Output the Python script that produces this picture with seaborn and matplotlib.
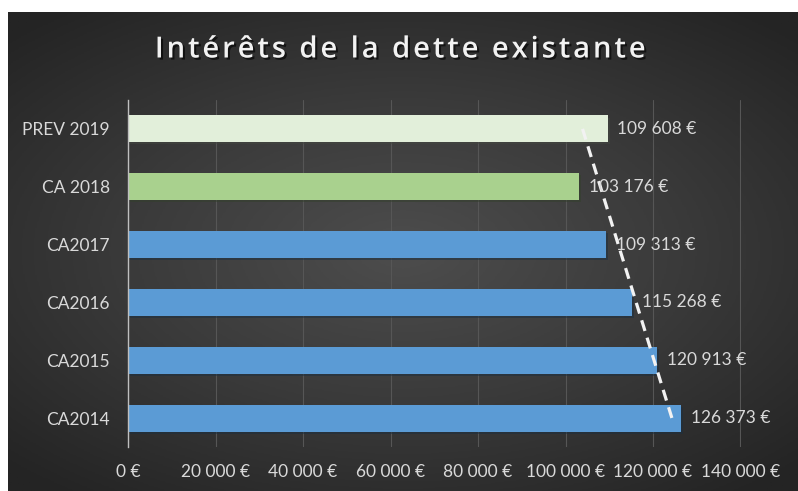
import numpy as np
import pandas as pd
import matplotlib
matplotlib.use("Agg")
import matplotlib.pyplot as plt
import matplotlib.patheffects as pe
from matplotlib.ticker import FuncFormatter
import seaborn as sns

# Données du graphique
categories = ["PREV 2019", "CA 2018", "CA2017", "CA2016", "CA2015", "CA2014"]
valeurs = [109608, 103176, 109313, 115268, 120913, 126373]
couleurs = ["#E2EFDA", "#A9D18E", "#5B9BD5", "#5B9BD5", "#5B9BD5", "#5B9BD5"]
titre = "Intérêts de la dette existante"

df = pd.DataFrame({"categorie": categories, "valeur": valeurs})

sns.set_theme(style="dark")
plt.rcParams["font.family"] = ["Lato", "DejaVu Sans"]

fig = plt.figure(figsize=(7.98, 4.91), dpi=100, facecolor="white")

# Fond sombre avec dégradé radial
bg = fig.add_axes([8 / 798, 0, 790 / 798, 479 / 491], zorder=0)
yy, xx = np.mgrid[-1:1:300j, -1:1:500j]
r = np.sqrt((xx * 0.95) ** 2 + (yy * 1.05) ** 2)
bg.imshow(r, cmap=matplotlib.colors.LinearSegmentedColormap.from_list(
    "fond", ["#4d4d4d", "#3a3a3a", "#242424"]), aspect="auto",
    extent=[0, 1, 0, 1], vmin=0, vmax=1.35)
bg.axis("off")

ax = fig.add_axes([128 / 798, 1 - 447 / 491, 612.5 / 798, 347 / 491], zorder=1)
ax.patch.set_alpha(0)

sns.barplot(data=df, x="valeur", y="categorie", hue="categorie",
            palette=dict(zip(categories, couleurs)), order=categories,
            width=0.465, saturation=1, legend=False, ax=ax, zorder=3,
            edgecolor="none", linewidth=0)

for p in ax.patches:
    p.set_path_effects([pe.SimplePatchShadow(offset=(1.5, -1.5), alpha=0.5), pe.Normal()])

# Courbe de tendance linéaire (comme Excel)
pos = np.arange(len(valeurs))
a, b = np.polyfit(pos, valeurs, 1)
ax.plot(a * pos[[0, -1]] + b, pos[[0, -1]], color="#f2f2f2", lw=2.3,
        ls=(0, (3.5, 2.2)), zorder=4)

# Étiquettes de données
for i, v in enumerate(valeurs):
    ax.annotate(f"{v:,}".replace(",", " ") + " €", (v, i), xytext=(7, 0),
                textcoords="offset points", va="center", ha="left",
                color="#d9d9d9", fontsize=12.5, zorder=5)

ax.set_xlim(0, 140000)
ax.set_ylim(5.5, -0.5)
ax.set_xticks(range(0, 140001, 20000))
ax.xaxis.set_major_formatter(FuncFormatter(lambda x, _: f"{int(x):,}".replace(",", " ") + " €"))
ax.grid(axis="x", color="#565656", lw=0.8, zorder=0)
ax.grid(axis="y", visible=False)
ax.set_xlabel("")
ax.set_ylabel("")
ax.tick_params(axis="both", length=0, colors="#d9d9d9", labelsize=12.5)
ax.tick_params(axis="x", pad=12)
ax.tick_params(axis="y", pad=13)
for s in ["top", "right", "bottom"]:
    ax.spines[s].set_visible(False)
ax.spines["left"].set_color("#bfbfbf")
ax.spines["left"].set_linewidth(1)
ax.spines["left"].set_zorder(4)

# Titre avec espacement des lettres
fig.text(0.5, 1 - 50 / 491, "\u200a".join(titre), ha="center", va="center",
         color="#f2f2f2", fontsize=21, fontweight="semibold",
         family=["Open Sans", "DejaVu Sans"],
         path_effects=[pe.withSimplePatchShadow(offset=(1.5, -1.5), shadow_rgbFace="black", alpha=0.6)])

fig.savefig("out.png", dpi=100, facecolor="white")
